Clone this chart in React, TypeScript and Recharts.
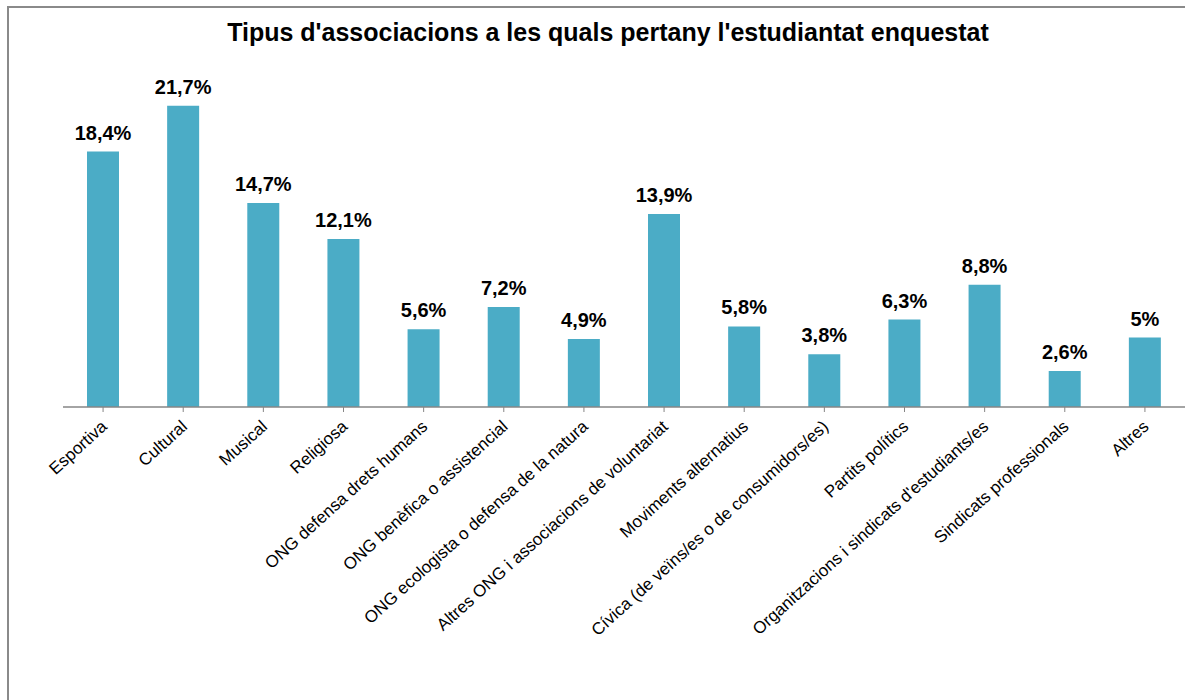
import { Bar, BarChart, LabelList, XAxis, YAxis } from "recharts";

const categories = [
  "Esportiva",
  "Cultural",
  "Musical",
  "Religiosa",
  "ONG defensa drets humans",
  "ONG benèfica o assistencial",
  "ONG ecologista o defensa de la natura",
  "Altres ONG i associacions de voluntariat",
  "Moviments alternatius",
  "Cívica (de veïns/es o de consumidors/es)",
  "Partits polítics",
  "Organitzacions i sindicats d'estudiants/es",
  "Sindicats professionals",
  "Altres",
];

const percentages = [18.4, 21.7, 14.7, 12.1, 5.6, 7.2, 4.9, 13.9, 5.8, 3.8, 6.3, 8.8, 2.6, 5];

const FONT = '"Liberation Sans", Arial, sans-serif';

const chartData = categories.map((name, i) => ({ name, value: percentages[i] }));

const formatPct = (v: number) => `${String(v).replace(".", ",")}%`;

// rotated category label, anchored at its end just below the tick
const AngledTick = ({ x, y, payload }: any) => (
  <g transform={`translate(${x + 5},${y + 14})`}>
    <text
      x={0}
      y={0}
      textAnchor="end"
      transform="rotate(-42)"
      fontSize={17}
      fontFamily={FONT}
      fill="#000"
    >
      {payload.value}
    </text>
  </g>
);

export default function App() {
  return (
    <div
      style={{
        position: "absolute",
        left: 0,
        top: 0,
        width: 1185,
        height: 700,
        overflow: "hidden",
        background: "#fff",
        fontFamily: FONT,
      }}
    >
      <div
        style={{
          position: "absolute",
          left: 7,
          top: 6,
          width: 1250,
          height: 750,
          border: "2px solid #8a8a8a",
        }}
      />
      <div
        style={{
          position: "absolute",
          left: 0,
          top: 18,
          width: 1216,
          textAlign: "center",
          fontSize: 25,
          fontWeight: "bold",
          color: "#000",
        }}
      >
        Tipus d'associacions a les quals pertany l'estudiantat enquestat
      </div>
      <div style={{ position: "absolute", left: 0, top: 0 }}>
        <BarChart
          width={1185}
          height={700}
          data={chartData}
          margin={{ top: 60, right: 0, left: 63, bottom: 0 }}
        >
          <XAxis
            dataKey="name"
            interval={0}
            tick={<AngledTick />}
            tickLine={{ stroke: "#868686" }}
            tickSize={5}
            axisLine={{ stroke: "#868686", strokeWidth: 1.5 }}
            height={293}
          />
          <YAxis hide domain={[0, 25]} />
          <Bar dataKey="value" fill="#4BACC6" barSize={32} isAnimationActive={false}>
            <LabelList
              dataKey="value"
              position="top"
              offset={12}
              formatter={(v: any) => formatPct(v)}
              style={{ fontSize: 20, fontWeight: "bold", fill: "#000", fontFamily: FONT }}
            />
          </Bar>
        </BarChart>
      </div>
    </div>
  );
}
